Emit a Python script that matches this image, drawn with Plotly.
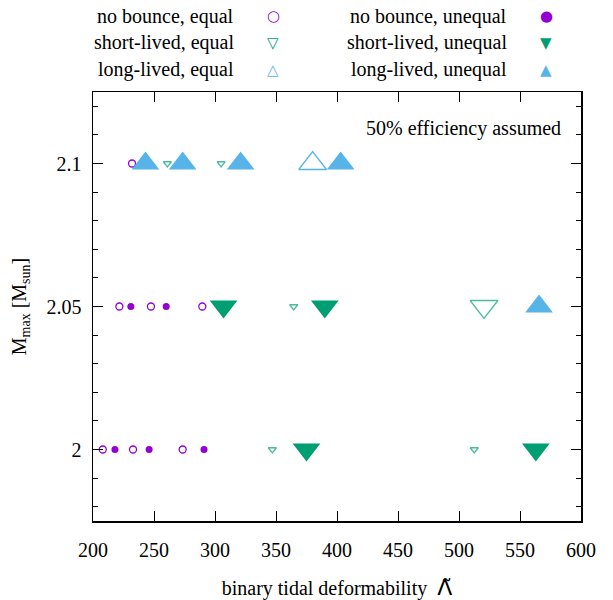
import plotly.graph_objects as go

# ---- data (binary tidal deformability vs maximum mass) ----
nb_eq_x = [232, 221.6, 247.5, 289.6, 208, 232.8, 273.5]
nb_eq_y = [2.1, 2.05, 2.05, 2.05, 2.0, 2.0, 2.0]

nb_un_x = [231, 260, 218, 246, 291]
nb_un_y = [2.05, 2.05, 2.0, 2.0, 2.0]

sl_eq_x = [261, 305, 364.5, 520.5, 347, 512.5]
sl_eq_y = [2.1, 2.1, 2.05, 2.05, 2.0, 2.0]
sl_eq_big = [0, 0, 0, 1, 0, 0]

sl_un_x = [307, 390, 375, 563]
sl_un_y = [2.05, 2.05, 2.0, 2.0]

ll_eq_x = [380]
ll_eq_y = [2.1]

ll_un_x = [243, 273.5, 321, 403, 565.6]
ll_un_y = [2.1, 2.1, 2.1, 2.1, 2.05]

x_ticks = [200, 250, 300, 350, 400, 450, 500, 550, 600]
y_ticks = [2.0, 2.05, 2.1]
y_tick_text = ["2", "2.05", "2.1"]

PURPLE = "#9400D3"
GREEN = "#009E73"
BLUE = "#56B4E9"
FONT = "Liberation Serif"
FS = 20
SMALL = 7
BIG = 24

W, H = 613, 600
# plot area in pixels
PX0, PX1, PY0, PY1 = 93, 581, 92, 521

fig = go.Figure()

def add(x, y, symbol, color, sizes, filled):
    fig.add_trace(go.Scatter(
        x=x, y=y, mode="markers", showlegend=False, cliponaxis=False,
        hoverinfo="skip",
        marker=dict(
            symbol=symbol, size=sizes, color=color,
            line=dict(color=color, width=0 if filled else 1.3),
        ),
    ))

add(nb_eq_x, nb_eq_y, "circle-open", PURPLE, SMALL, False)
add(nb_un_x, nb_un_y, "circle", PURPLE, SMALL, True)
add(sl_eq_x, sl_eq_y, "triangle-down-open", GREEN,
    [BIG if b else SMALL for b in sl_eq_big], False)
add(sl_un_x, sl_un_y, "triangle-down", GREEN, BIG, True)
add(ll_eq_x, ll_eq_y, "triangle-up-open", BLUE, BIG, False)
add(ll_un_x, ll_un_y, "triangle-up", BLUE, BIG, True)

def px(x):
    return (x - PX0) / (PX1 - PX0)

def py(y):
    return (PY1 - y) / (PY1 - PY0)

# ---- legend (drawn as text, gnuplot style: label then key symbol) ----
legend_left = [("no bounce, equal", "○", PURPLE),
               ("short-lived, equal", "▽", GREEN),
               ("long-lived, equal", "△", BLUE)]
legend_right = [("no bounce, unequal", "●", PURPLE),
                ("short-lived, unequal", "▼", GREEN),
                ("long-lived, unequal", "▲", BLUE)]
row_y = [16, 43, 70]
for items, text_x, key_x in [(legend_left, 236, 273), (legend_right, 509, 546)]:
    for (label, glyph, col), yy in zip(items, row_y):
        fig.add_annotation(x=px(text_x), y=py(yy), xref="paper", yref="paper",
                           text=label, showarrow=False, xanchor="right", yanchor="middle",
                           font=dict(family=FONT, size=FS, color="black"))
        fig.add_annotation(x=px(key_x), y=py(yy), xref="paper", yref="paper",
                           text=glyph, showarrow=False, xanchor="center", yanchor="middle",
                           font=dict(family="DejaVu Sans", size=15, color=col))

fig.add_annotation(x=px(563), y=py(128), xref="paper", yref="paper",
                   text="50% efficiency assumed", showarrow=False,
                   xanchor="right", yanchor="middle",
                   font=dict(family=FONT, size=FS, color="black"))

fig.update_layout(
    width=W, height=H,
    margin=dict(l=PX0, r=W - PX1, t=PY0, b=H - PY1, pad=0, autoexpand=False),
    paper_bgcolor="white", plot_bgcolor="white",
    font=dict(family=FONT, size=FS, color="black"),
    showlegend=False, hovermode=False,
)
fig.update_xaxes(
    range=[200, 600], tickvals=x_ticks, ticks="inside", ticklen=10, tickwidth=1,
    tickcolor="black", showline=True, linecolor="black", linewidth=1.5, mirror="ticks",
    showgrid=False, zeroline=False, ticklabelstandoff=10, automargin=False,
    title=dict(text="binary tidal deformability  <span style=\"font-family:'DejaVu Sans';font-size:22px\">Λ̃</span>",
               font=dict(family=FONT, size=FS), standoff=22),
)
fig.update_yaxes(
    range=[1.975, 2.125], tickvals=y_ticks, ticktext=y_tick_text, ticks="inside",
    ticklen=10, tickwidth=1, tickcolor="black", showline=True, linecolor="black",
    linewidth=1.5, mirror="ticks", showgrid=False, zeroline=False, ticklabelstandoff=6,
    automargin=False,
    minor=dict(dtick=0.01, tick0=2.0, ticks="inside", ticklen=5, tickcolor="black", showgrid=False),
    title=dict(text="M<sub>max</sub> [M<sub>sun</sub>]", font=dict(family=FONT, size=FS), standoff=14),
)

fig.write_html(
    "out.html",
    config={"displayModeBar": False, "staticPlot": True},
    post_script="document.body.style.margin='0';document.body.style.overflow='hidden';"
                "document.documentElement.style.overflow='hidden';",
)
